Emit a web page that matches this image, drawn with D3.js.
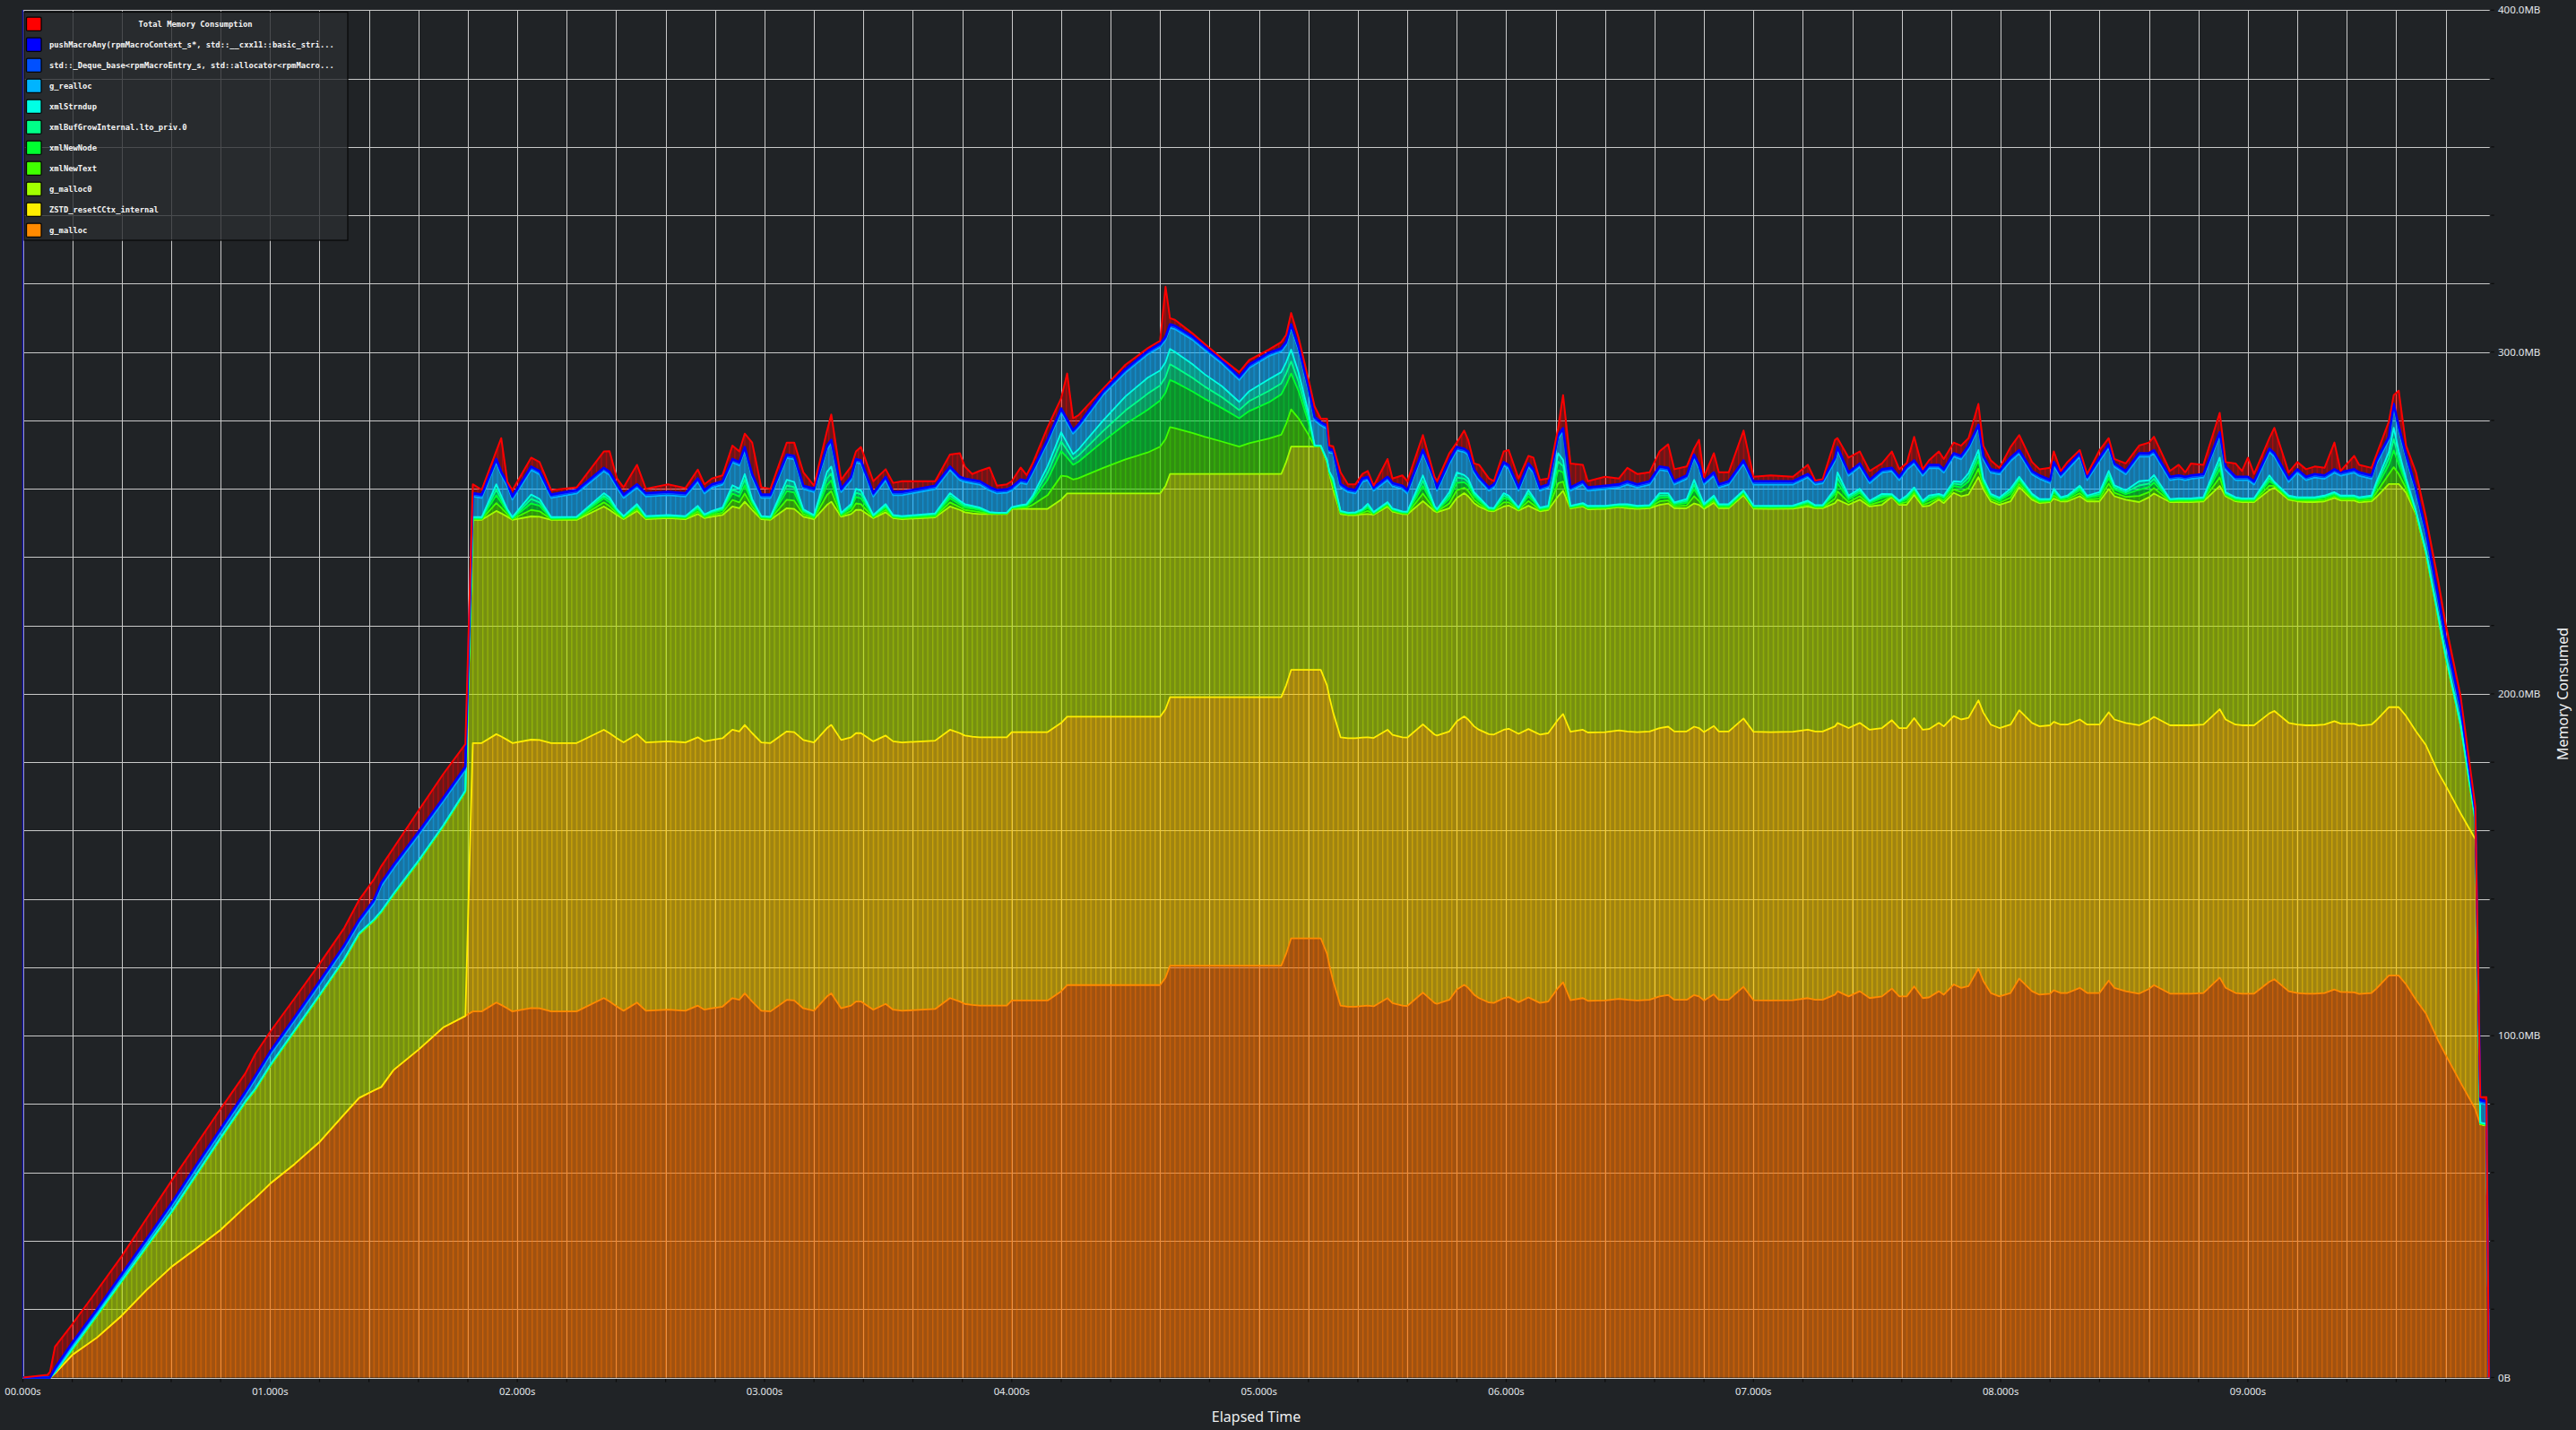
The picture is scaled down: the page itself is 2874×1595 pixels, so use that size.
<!DOCTYPE html>
<html>
<head>
<meta charset="utf-8">
<script src="https://cdn.jsdelivr.net/npm/d3@7"></script>
<style>
html, body { margin: 0; padding: 0; background: #202326; }
svg { display: block; }
</style>
<title>Memory Consumed</title>
</head>
<body>
<div id="chart"></div>
<script>
// elapsed time in seconds
const times = [
  0, 0.1, 0.11, 0.13, 0.2, 0.3, 0.4, 0.5, 0.6, 0.7,
  0.8, 0.9, 0.94, 1.0, 1.1, 1.2, 1.3, 1.36, 1.42, 1.45,
  1.5, 1.6, 1.7, 1.79, 1.82, 1.856, 1.915, 1.935, 1.96, 1.98,
  2.056, 2.09, 2.137, 2.24, 2.35, 2.373, 2.403, 2.43, 2.484, 2.52,
  2.61, 2.68, 2.73, 2.757, 2.787, 2.83, 2.87, 2.898, 2.92, 2.95,
  2.987, 3.024, 3.09, 3.12, 3.157, 3.2, 3.253, 3.27, 3.31, 3.35,
  3.37, 3.39, 3.44, 3.49, 3.52, 3.556, 3.69, 3.75, 3.79, 3.81,
  3.84, 3.87, 3.91, 3.94, 3.98, 4.0, 4.036, 4.06, 4.085, 4.145,
  4.2, 4.224, 4.248, 4.27, 4.37, 4.46, 4.55, 4.6, 4.622, 4.64,
  4.66, 4.73, 4.78, 4.85, 4.92, 4.96, 5.04, 5.09, 5.11, 5.13,
  5.16, 5.2, 5.225, 5.25, 5.275, 5.285, 5.3, 5.33, 5.36, 5.39,
  5.418, 5.44, 5.464, 5.52, 5.54, 5.58, 5.6, 5.663, 5.71, 5.72,
  5.77, 5.8, 5.83, 5.846, 5.87, 5.89, 5.93, 5.95, 5.99, 6.01,
  6.05, 6.09, 6.11, 6.136, 6.17, 6.21, 6.23, 6.26, 6.31, 6.33,
  6.4, 6.456, 6.49, 6.53, 6.58, 6.62, 6.655, 6.68, 6.73, 6.76,
  6.78, 6.8, 6.84, 6.86, 6.9, 6.96, 7.0, 7.07, 7.16, 7.22,
  7.25, 7.28, 7.33, 7.34, 7.385, 7.43, 7.47, 7.52, 7.56, 7.59,
  7.62, 7.65, 7.685, 7.71, 7.75, 7.77, 7.81, 7.84, 7.87, 7.91,
  7.93, 7.96, 7.995, 8.04, 8.075, 8.127, 8.157, 8.2, 8.215, 8.243,
  8.27, 8.32, 8.35, 8.4, 8.437, 8.46, 8.506, 8.56, 8.6, 8.62,
  8.685, 8.72, 8.747, 8.77, 8.82, 8.886, 8.91, 8.95, 8.976, 9.0,
  9.025, 9.087, 9.107, 9.165, 9.2, 9.235, 9.27, 9.31, 9.35, 9.375,
  9.43, 9.45, 9.5, 9.52, 9.57, 9.59, 9.61, 9.64, 9.68, 9.72,
  9.77, 9.8, 9.86, 9.92, 9.94, 9.965, 9.975
];

// MB per allocation site
const gMalloc = [
  0, 0, 0, 1.2, 6.6, 11.7, 18.1, 25.6, 32.3, 37.7,
  43.2, 50, 52.5, 56.7, 62.5, 68.9, 77, 81.8, 84, 85,
  90, 95.9, 102.4, 105.8, 107.1, 107.1, 109.7, 109, 108, 107.1,
  108.1, 108, 107.1, 107.1, 111, 110, 108.5, 107.3, 109.7, 107.3,
  107.6, 107.3, 108.8, 107.6, 108, 108.5, 111, 110.5, 112.4, 110,
  107.3, 107.1, 110.5, 110.3, 108, 107.3, 111.5, 112.4, 108, 108.8,
  110, 110, 107.6, 109.3, 107.6, 107.3, 107.8, 111, 110, 109.3,
  109, 108.8, 108.8, 108.8, 108.8, 110.3, 110.3, 110.3, 110.3, 110.3,
  113, 114.8, 114.8, 114.8, 114.8, 114.8, 114.8, 114.8, 117, 120.5,
  120.5, 120.5, 120.5, 120.5, 120.5, 120.5, 120.5, 120.5, 124, 128.5,
  128.5, 128.5, 128.5, 128.5, 124, 120.5, 116, 108.8, 108.5, 108.5,
  108.7, 108.8, 108.6, 111, 109.5, 108.8, 108.7, 112.6, 109.6, 109.3,
  110.5, 113.5, 114.9, 114, 112, 111, 109.7, 109.6, 111, 111.3,
  109.8, 111.2, 110.5, 109.6, 110, 114, 115.6, 110.4, 111, 110.2,
  110.3, 110.8, 110.5, 110.3, 110.5, 111.5, 111.9, 110.5, 110.5, 111.9,
  111.5, 110.3, 112.1, 110.5, 110.5, 114.3, 110.4, 110.3, 110.4, 111,
  110.5, 110.5, 112, 113, 111.5, 113, 111, 111.5, 113.8, 111.5,
  111.5, 114.4, 111, 111.2, 113, 112, 115, 114, 114.5, 119.6,
  116, 112.5, 111.5, 112.5, 116.7, 113, 112, 112.3, 113.3, 112.5,
  112.5, 114, 112.5, 112.5, 116.1, 114, 113, 112.3, 113.7, 114.8,
  112.3, 112.3, 112.3, 112.3, 112.5, 117, 114, 112.5, 112.3, 112.3,
  112.3, 115.8, 116.5, 113, 112.5, 112.3, 112.3, 112.5, 113.5, 112.8,
  112.7, 112.2, 112.5, 113.8, 117.6, 117.6, 117.6, 115, 110.5, 106.5,
  98.5, 94.4, 86.3, 78.5, 74.1, 73.7, 0
];

const zstd = [
  0, 0, 0, 0, 0, 0, 0, 0, 0, 0,
  0, 0, 0, 0, 0, 0, 0, 0, 0, 0,
  0, 0, 0, 0, 78.5, 78.5, 78.5, 78.5, 78.5, 78.5,
  78.5, 78.5, 78.5, 78.5, 78.5, 78.5, 78.5, 78.5, 78.5, 78.5,
  78.5, 78.5, 78.5, 78.5, 78.5, 78.5, 78.5, 78.5, 78.5, 78.5,
  78.5, 78.5, 78.5, 78.5, 78.5, 78.5, 78.5, 78.5, 78.5, 78.5,
  78.5, 78.5, 78.5, 78.5, 78.5, 78.5, 78.5, 78.5, 78.5, 78.5,
  78.5, 78.5, 78.5, 78.5, 78.5, 78.5, 78.5, 78.5, 78.5, 78.5,
  78.5, 78.5, 78.5, 78.5, 78.5, 78.5, 78.5, 78.5, 78.5, 78.5,
  78.5, 78.5, 78.5, 78.5, 78.5, 78.5, 78.5, 78.5, 78.5, 78.5,
  78.5, 78.5, 78.5, 78.5, 78.5, 78.5, 78.5, 78.5, 78.5, 78.5,
  78.5, 78.5, 78.5, 78.5, 78.5, 78.5, 78.5, 78.5, 78.5, 78.5,
  78.5, 78.5, 78.5, 78.5, 78.5, 78.5, 78.5, 78.5, 78.5, 78.5,
  78.5, 78.5, 78.5, 78.5, 78.5, 78.5, 78.5, 78.5, 78.5, 78.5,
  78.5, 78.5, 78.5, 78.5, 78.5, 78.5, 78.5, 78.5, 78.5, 78.5,
  78.5, 78.5, 78.5, 78.5, 78.5, 78.5, 78.5, 78.5, 78.5, 78.5,
  78.5, 78.5, 78.5, 78.5, 78.5, 78.5, 78.5, 78.5, 78.5, 78.5,
  78.5, 78.5, 78.5, 78.5, 78.5, 78.5, 78.5, 78.5, 78.5, 78.5,
  78.5, 78.5, 78.5, 78.5, 78.5, 78.5, 78.5, 78.5, 78.5, 78.5,
  78.5, 78.5, 78.5, 78.5, 78.5, 78.5, 78.5, 78.5, 78.5, 78.5,
  78.5, 78.5, 78.5, 78.5, 78.5, 78.5, 78.5, 78.5, 78.5, 78.5,
  78.5, 78.5, 78.5, 78.5, 78.5, 78.5, 78.5, 78.5, 78.5, 78.5,
  78.5, 78.5, 78.5, 78.5, 78.5, 78.5, 78.5, 78.5, 78.5, 78.5,
  78.5, 78.8, 78.8, 79, 0, 0, 0
];

const gMalloc0 = [
  0, 0, 0, 0.3, 1.5, 6.3, 9.9, 12.4, 15.7, 21.2,
  26.6, 30.4, 31.6, 34.3, 38.8, 42.7, 45.1, 47.8, 49.6, 51.1,
  51.2, 54.9, 58.7, 65.5, 65.3, 65.3, 65.3, 65.3, 65.3, 65.3,
  65.3, 65.3, 65.3, 65.3, 65.3, 65.3, 65.3, 65.3, 65.3, 65.3,
  65.3, 65.3, 65.3, 65.3, 65.3, 65.3, 65.3, 65.3, 65.3, 65.3,
  65.3, 65.3, 65.3, 65.3, 65.3, 65.3, 65.3, 65.3, 65.3, 65.3,
  65.3, 65.3, 65.3, 65.3, 65.3, 65.3, 65.3, 65.3, 65.3, 65.3,
  65.3, 65.3, 65.3, 65.3, 65.3, 65.3, 65.3, 65.3, 65.3, 65.3,
  65.3, 65.3, 65.3, 65.3, 65.3, 65.3, 65.3, 65.3, 65.3, 65.3,
  65.3, 65.3, 65.3, 65.3, 65.3, 65.3, 65.3, 65.3, 65.3, 65.3,
  65.3, 65.3, 65.3, 65.3, 65.3, 65.3, 65.3, 65.3, 65.3, 65.3,
  65.3, 65.3, 65.3, 65.3, 65.3, 65.3, 65.3, 65.3, 65.3, 65.3,
  65.3, 65.3, 65.3, 65.3, 65.3, 65.3, 65.3, 65.3, 65.3, 65.3,
  65.3, 65.3, 65.3, 65.3, 65.3, 65.3, 65.3, 65.3, 65.3, 65.3,
  65.3, 65.3, 65.3, 65.3, 65.3, 65.3, 65.3, 65.3, 65.3, 65.3,
  65.3, 65.3, 65.3, 65.3, 65.3, 65.3, 65.3, 65.3, 65.3, 65.3,
  65.3, 65.3, 65.3, 65.3, 65.3, 65.3, 65.3, 65.3, 65.3, 65.3,
  65.3, 65.3, 65.3, 65.3, 65.3, 65.3, 65.3, 65.3, 65.3, 65.3,
  65.3, 65.3, 65.3, 65.3, 65.3, 65.3, 65.3, 65.3, 65.3, 65.3,
  65.3, 65.3, 65.3, 65.3, 65.3, 65.3, 65.3, 65.3, 65.3, 65.3,
  65.3, 65.3, 65.3, 65.3, 65.3, 65.3, 65.3, 65.3, 65.3, 65.3,
  65.3, 65.3, 65.3, 65.3, 65.3, 65.3, 65.3, 65.3, 65.3, 65.3,
  65.3, 65.3, 65.3, 65.3, 65.3, 65.3, 65.3, 65.3, 63.5, 56,
  45.1, 37.3, 25.6, 5, 0, 0, 0
];

const xmlNewText = [
  0, 0, 0, 0, .1, .1, .1, .1, .1, .1,
  .1, .1, .1, .1, .1, .1, .1, .1, .1, .1,
  .1, .1, .1, .1, .2, .2, 2.3, 1.6, .7, .2,
  1.9, 1.6, .2, .25, 1.2, 1.1, .5, .25, .6, .25,
  .25, .25, .7, .3, .5, .7, 1.9, 1.7, 2.4, 1,
  .25, .25, 2.5, 2.4, .7, .3, 2.9, 3.1, .3, .9,
  1.9, 1.7, .25, .7, .25, .25, .3, 1.2, .8, .7,
  .7, .6, .15, .1, .1, .15, .3, .4, 1.2, 4,
  7, 5, 4.1, 4.5, 7.5, 10, 12, 13.7, 13.7, 13.7,
  13.4, 12, 10.9, 9.5, 8, 9, 10.4, 11.5, 11.2, 10.9,
  8.3, 3.5, .1, .1, .2, .2, 1, .25, .2, .2,
  .45, .9, .2, .4, .25, .2, .2, 2.2, .5, .25,
  1.4, 2.2, 1.6, 1.6, 1, .8, .25, .25, 1.2, .9,
  .25, 1.4, 1, .3, .3, 3.8, 2.7, .2, .25, .25,
  .25, .25, .3, .25, .25, 1, .9, .5, .8, 2.1,
  1.1, .4, .6, .3, .3, .4, .25, .25, .25, .5,
  .25, .25, 1.3, 2.4, .8, 1, .5, 1, .2, .3,
  .8, .7, .5, .9, .5, .7, 1, 1.3, 1.9, 2.4,
  1, .7, .6, 1.1, .9, .5, .3, .25, .9, .3,
  .5, .9, .5, .8, 1.6, 1, .8, 1.8, 1.5, 1.6,
  .25, .3, .3, .3, .3, 2.5, .3, .3, .3, .3,
  .3, 1.3, .5, .3, .3, .4, .4, .5, .5, .4,
  .45, .45, .5, 1.3, 2.8, 4.9, 2.9, 1.3, .25, .2,
  .2, .2, .2, .2, .15, .15, 0
];

const xmlNewNode = [
  0, 0, 0, 0, .1, .1, .1, .1, .1, .1,
  .1, .1, .1, .1, .1, .1, .1, .1, .1, .1,
  .1, .1, .1, .1, .2, .2, 2.3, 1.6, .7, .2,
  1.9, 1.6, .2, .25, 1.2, 1.1, .5, .25, .6, .25,
  .25, .25, .7, .3, .5, .7, 1.9, 1.7, 2.4, 1,
  .25, .25, 2.5, 2.4, .7, .3, 2.9, 3.1, .3, .9,
  1.9, 1.7, .25, .7, .25, .25, .3, 1.2, .8, .7,
  .7, .6, .15, .1, .1, .15, .3, .4, 1.3, 4.5,
  7.2, 5.5, 4.3, 4.8, 7.8, 10.3, 12.5, 13.5, 13.6, 13.8,
  13.5, 12.2, 11.1, 9.8, 8.3, 9.4, 10.6, 11.8, 11.4, 10.5,
  8, 3.5, .1, .1, .2, .2, 1, .25, .2, .2,
  .45, .9, .2, .4, .25, .2, .2, 2.2, .5, .25,
  1.4, 2.2, 1.6, 1.6, 1, .8, .25, .25, 1.2, .9,
  .25, 1.4, 1, .3, .3, 3.8, 2.7, .2, .25, .25,
  .25, .25, .3, .25, .25, 1, .9, .5, .8, 2.1,
  1.1, .4, .6, .3, .3, .4, .25, .25, .25, .5,
  .25, .25, 1.3, 2.4, .8, 1, .5, 1, .2, .3,
  .8, .7, .5, .9, .5, .7, 1, 1.3, 1.9, 2.4,
  1, .7, .6, 1.1, .9, .5, .3, .25, .9, .3,
  .5, .9, .5, .8, 1.6, 1, .8, 1.8, 1.5, 1.6,
  .25, .3, .3, .3, .3, 2.5, .3, .3, .3, .3,
  .3, 1.3, .5, .3, .3, .4, .4, .5, .5, .4,
  .45, .45, .5, 1.3, 2.8, 4.9, 2.9, 1.3, .25, .2,
  .2, .2, .2, .2, .15, .15, 0
];

const xmlBufGrow = [
  0, 0, 0, 0, .1, .1, .1, .1, .1, .1,
  .1, .1, .1, .1, .1, .1, .1, .1, .1, .1,
  .1, .1, .1, .1, .2, .2, 1.6, 1, .4, .2,
  1.3, 1, .2, .2, .75, .75, .35, .2, .4, .2,
  .2, .2, .5, .25, .35, .4, 1.2, 1.15, 1.65, .6,
  .2, .2, 1.65, 1.55, .4, .3, 1.95, 2.05, .3, .55,
  1.2, 1.15, .2, .5, .2, .2, .3, .75, .55, .5,
  .4, .35, .15, .1, .1, .1, .25, .3, .7, 2,
  2.8, 2.2, 1.6, 1.8, 3, 4, 4.7, 4.4, 4.5, 4.6,
  4.4, 4, 3.6, 3.2, 2.4, 2.9, 3.3, 3.2, 3.3, 3.5,
  2.7, 1.5, .1, .05, .15, .15, .6, .2, .15, .2,
  .3, .6, .2, .25, .2, .2, .2, 1.55, .3, .2,
  .95, 1.55, 1.05, 1, .6, .55, .25, .2, .75, .55,
  .2, .9, .6, .25, .3, 2.5, 1.8, .2, .25, .25,
  .2, .2, .3, .2, .2, .7, .6, .35, .55, 1.35,
  .75, .3, .45, .3, .3, .3, .2, .2, .2, .35,
  .2, .2, .8, 1.6, .55, .6, .35, .6, .2, .3,
  .55, .4, .35, .6, .35, .4, .7, .8, 1.2, 1.55,
  .6, .4, .45, .75, .6, .35, .3, .2, .55, .3,
  .35, .65, .35, .55, 1.05, .6, .55, 1.25, 1, 1.1,
  .2, .25, .25, .25, .3, 1.65, .3, .3, .25, .25,
  .25, .85, .35, .3, .3, .3, .3, .35, .35, .3,
  .3, .3, .35, .9, 1.85, 3.3, 1.9, .8, .25, .2,
  .2, .2, .15, .15, .1, .1, 0
];

const xmlStrndup = [
  0, 0, 0, 0, .1, .1, .1, .1, .1, .1,
  .1, .1, .1, .1, .1, .1, .1, .1, .1, .1,
  .1, .1, .1, .1, .2, .2, 1.6, 1, .4, .2,
  1.3, 1, .2, .2, .75, .75, .35, .2, .4, .2,
  .2, .2, .5, .25, .35, .4, 1.2, 1.15, 1.65, .6,
  .2, .2, 1.65, 1.55, .4, .3, 1.95, 2.05, .3, .55,
  1.2, 1.15, .2, .5, .2, .2, .3, .75, .55, .5,
  .4, .35, .15, .1, .1, .1, .25, .3, .7, 2,
  2.7, 2, 1.5, 1.8, 3.1, 4.1, 4.7, 4.4, 4.4, 4.5,
  4.4, 4, 3.6, 3.2, 2.4, 2.9, 3.4, 3.3, 3.3, 3.5,
  2.7, 1.5, .1, .05, .15, .15, .6, .2, .15, .2,
  .3, .6, .2, .25, .2, .2, .2, 1.55, .3, .2,
  .95, 1.55, 1.05, 1, .6, .55, .25, .2, .75, .55,
  .2, .9, .6, .25, .3, 2.5, 1.8, .2, .25, .25,
  .2, .2, .3, .2, .2, .7, .6, .35, .55, 1.35,
  .75, .3, .45, .3, .3, .3, .2, .2, .2, .35,
  .2, .2, .8, 1.6, .55, .6, .35, .6, .2, .3,
  .55, .4, .35, .6, .35, .4, .7, .8, 1.2, 1.55,
  .6, .4, .45, .75, .6, .35, .3, .2, .55, .3,
  .35, .65, .35, .55, 1.05, .6, .55, 1.25, 1, 1.1,
  .2, .25, .25, .25, .3, 1.65, .3, .3, .25, .25,
  .25, .85, .35, .3, .3, .3, .3, .35, .35, .3,
  .3, .3, .35, .9, 1.85, 3.3, 1.9, .8, .25, .2,
  .2, .2, .15, .15, .1, .1, 0
];

const gRealloc = [
  0, 0, 0, .3, .7, .6, .9, 1.1, 1.5, 1.7,
  1.6, 1.8, 2.7, 2.9, 2.8, 2.9, 3.0, 2.9, 4.7, 7.3,
  7.4, 7.4, 7.0, 6.0, 6.0, 5.6, 6.4, 6.0, 6.7, 5.1,
  7.2, 7.2, 5.6, 6.8, 6.4, 6.5, 6.3, 5.3, 4.8, 5.7,
  5.8, 5.7, 7.0, 6.1, 6.8, 6.7, 6.7, 6.8, 6.9, 6.3,
  5.3, 5.5, 6.4, 6.6, 5.9, 6.7, 6.6, 6.8, 6.0, 7.0,
  7.7, 7.8, 5.4, 7.0, 5.8, 6.1, 7.1, 6.8, 6.0, 6.5,
  6.6, 6.7, 6.3, 5.6, 5.8, 4.9, 6.5, 5.8, 6.7, 6.9,
  6.0, 6.0, 6.0, 6.3, 7.5, 7.0, 6.8, 6.8, 6.5, 6.2,
  6.7, 7.1, 7.1, 6.6, 6.4, 6.8, 6.8, 6.0, 5.0, 6.4,
  6.6, 6.5, 7.3, 5.9, 9.0, 5.5, 7.4, 6.9, 6.0, 5.5,
  8.0, 6.9, 6.2, 6.4, 6.5, 6.5, 5.3, 6.5, 7.0, 5.4,
  8.3, 6.4, 6.7, 6.9, 5.7, 5.0, 4.9, 6.0, 8.1, 7.9,
  4.9, 6.8, 7.2, 4.9, 5.3, 4.3, 8.3, 4.4, 5.4, 4.4,
  4.9, 4.8, 5.7, 5.3, 6.0, 6.8, 6.4, 5.2, 5.9, 6.4,
  7.0, 5.7, 5.8, 4.8, 5.7, 7.8, 6.1, 6.2, 6.1, 6.8,
  6.0, 6.4, 8.1, 6.4, 5.8, 6.4, 5.1, 6.2, 6.7, 6.0,
  7.5, 6.9, 7.3, 8.0, 7.5, 6.7, 7.2, 6.6, 7.1, 6.4,
  5.6, 6.2, 6.8, 8.1, 6.8, 5.7, 5.9, 4.6, 6.8, 5.8,
  7.5, 8.5, 4.5, 9.1, 6.8, 5.4, 4.7, 7.2, 6.9, 6.3,
  5.5, 5.7, 5.3, 5.7, 5.8, 6.4, 6.5, 5.0, 5.3, 5.3,
  4.0, 6.8, 7.4, 4.0, 7.2, 5.0, 5.8, 4.9, 5.7, 5.8,
  6.7, 6.3, 4.9, 5.3, 3.5, 6.0, 6.3, 6.0, 5.5, 5.0,
  4.5, 4.0, 4.0, 1.5, 5.6, 5.6, 0
];

const dequeBase = [
  0, 0, 0, .5, .5, .5, .5, .5, .5, .5,
  .5, .5, .5, .5, .5, .5, .5, .5, .5, .5,
  .5, .5, .5, .5, .5, .5, .5, .5, .5, .5,
  .5, .5, .5, .5, .5, .5, .5, .5, .5, .5,
  .5, .5, .5, .5, .5, .5, .5, .5, .5, .5,
  .5, .5, .5, .5, .5, .5, .5, .5, .5, .5,
  .5, .5, .5, .5, .5, .5, .5, .5, .5, .5,
  .5, .5, .5, .5, .5, .5, .5, .5, .5, .5,
  .5, .5, .5, .5, .5, .5, .5, .5, .5, .5,
  .5, .5, .5, .5, .5, .5, .5, .5, .5, .5,
  .5, .5, .5, .5, .5, .5, .5, .5, .5, .5,
  .5, .5, .5, .5, .5, .5, .5, .5, .5, .5,
  .5, .5, .5, .5, .5, .5, .5, .5, .5, .5,
  .5, .5, .5, .5, .5, .5, .5, .5, .5, .5,
  .5, .5, .5, .5, .5, .5, .5, .5, .5, .5,
  .5, .5, .5, .5, .5, .5, .5, .5, .5, .5,
  .5, .5, .5, .5, .5, .5, .5, .5, .5, .5,
  .5, .5, .5, .5, .5, .5, .5, .5, .5, .5,
  .5, .5, .5, .5, .5, .5, .5, .5, .5, .5,
  .5, .5, .5, .5, .5, .5, .5, .5, .5, .5,
  .5, .5, .5, .5, .5, .5, .5, .5, .5, .5,
  .5, .5, .5, .5, .5, .5, .5, .5, .5, .5,
  .5, .5, .5, .5, .5, .5, .5, .5, .5, .5,
  .5, .5, .5, .5, .5, .5, 0
];

const pushMacro = [
  0, 0, 0, .5, .5, .5, .5, .5, .5, .5,
  .5, .5, .5, .5, .5, .5, .5, .5, .5, .5,
  .5, .5, .5, .5, .5, .5, .5, .5, .5, .5,
  .5, .5, .5, .5, .5, .5, .5, .5, .5, .5,
  .5, .5, .5, .5, .5, .5, .5, .5, .5, .5,
  .5, .5, .5, .5, .5, .5, .5, .5, .5, .5,
  .5, .5, .5, .5, .5, .5, .5, .5, .5, .5,
  .5, .5, .5, .5, .5, .5, .5, .5, .5, .5,
  .5, .5, .5, .5, .5, .5, .5, .5, .5, .5,
  .5, .5, .5, .5, .5, .5, .5, .5, .5, .5,
  .5, .5, .5, .5, .5, .5, .5, .5, .5, .5,
  .5, .5, .5, .5, .5, .5, .5, .5, .5, .5,
  .5, .5, .5, .5, .5, .5, .5, .5, .5, .5,
  .5, .5, .5, .5, .5, .5, .5, .5, .5, .5,
  .5, .5, .5, .5, .5, .5, .5, .5, .5, .5,
  .5, .5, .5, .5, .5, .5, .5, .5, .5, .5,
  .5, .5, .5, .5, .5, .5, .5, .5, .5, .5,
  .5, .5, .5, .5, .5, .5, .5, .5, .5, .5,
  .5, .5, .5, .5, .5, .5, .5, .5, .5, .5,
  .5, .5, .5, .5, .5, .5, .5, .5, .5, .5,
  .5, .5, .5, .5, .5, .5, .5, .5, .5, .5,
  .5, .5, .5, .5, .5, .5, .5, .5, .5, .5,
  .5, .5, .5, .5, .5, .5, .5, .5, .5, .5,
  .5, .5, .5, .5, .5, .5, 0
];

// total memory consumption (MB)
const total = [
  0, .8, 1.7, 9, 15.6, 25.5, 35.5, 46.5, 57.4, 68,
  78.6, 89, 94.6, 101.1, 111, 121, 131.5, 139.7, 145.7, 149.6,
  155, 165.8, 176.5, 185.3, 261.3, 259.7, 271, 274.8, 262, 259.6,
  269.1, 267.8, 259.6, 260.4, 270.9, 271, 263, 260.4, 267, 260,
  261.3, 260.2, 265.6, 261.3, 263, 263.9, 272.6, 270.9, 276.1, 273.5,
  260.4, 260, 273.5, 273.5, 264.8, 260.9, 277, 281.7, 262.6, 266.5,
  270.9, 272.2, 262.2, 265.7, 261.7, 262.2, 262.2, 270, 270.4, 266.5,
  264.3, 265.2, 266.2, 260.9, 261.3, 262.2, 266.2, 264, 267.5, 278,
  286.5, 293.7, 280.6, 281.5, 289.3, 296.3, 301.1, 303.3, 319.1, 309.9,
  309.4, 305.5, 302.4, 298.1, 294.1, 297.6, 300.7, 302.9, 305, 311.4,
  304.2, 292, 284.1, 280.5, 280.5, 272.6, 272.4, 264.8, 261.3, 261.3,
  264.3, 265.2, 260.9, 268.7, 263, 263.9, 262.2, 275.7, 263.5, 262.2,
  270.4, 273.5, 277, 274.3, 267.4, 267, 263, 262.2, 270.9, 271.3,
  263, 269.6, 269.1, 262.6, 263, 277.8, 287.4, 267.4, 267, 262.2,
  263.5, 263, 266.1, 264.3, 264.8, 270.9, 273, 265.7, 266.5, 271.7,
  274.3, 263.5, 270.4, 264.8, 264.8, 277, 263.5, 263.9, 263.5, 267,
  262.4, 262.8, 274.3, 274.8, 269.1, 270.9, 265.2, 267.4, 270.9, 265.7,
  267.5, 275.2, 265.7, 268.3, 270.9, 268.7, 273.5, 272.6, 274.8, 284.8,
  272.6, 268.3, 266.1, 272.2, 275.7, 267.8, 265.7, 266.1, 270.9, 265.2,
  267.8, 271.3, 264.3, 271.3, 274.8, 268.7, 267.4, 272.6, 273.5, 275.2,
  265.2, 267, 264.8, 267.4, 267, 282.2, 267.8, 267.4, 265.2, 269.1,
  264.3, 274.8, 277.8, 264.8, 267.8, 265.7, 266.5, 266.1, 273.5, 265.2,
  269.6, 267, 266.1, 270, 279.6, 287.4, 288.7, 272.6, 264.8, 251.7,
  233, 220.4, 199.5, 167, 82, 82, 0
];

const yTicks = [0, 20, 40, 60, 80, 100, 120, 140, 160, 180, 200, 220, 240, 260, 280, 300, 320, 340, 360, 380, 400];
const yLabels = [0, 100, 200, 300, 400];
const xLabels = [0, 1, 2, 3, 4, 5, 6, 7, 8, 9];

// bottom to top stacking order; color = legend/line, fill = band tint
const layers = [
  { key: "g_malloc", color: "#ff8a00", fill: "#ff7600", values: gMalloc },
  { key: "ZSTD_resetCCtx_internal", color: "#ffee00", fill: "#ffcc00", values: zstd },
  { key: "g_malloc0", color: "#a2ff00", fill: "#b6e000", values: gMalloc0 },
  { key: "xmlNewText", color: "#40ff00", fill: "#3ce000", values: xmlNewText },
  { key: "xmlNewNode", color: "#00ff30", fill: "#00e030", values: xmlNewNode },
  { key: "xmlBufGrowInternal.lto_priv.0", color: "#00ff88", fill: "#00e888", values: xmlBufGrow },
  { key: "xmlStrndup", color: "#00ffe4", fill: "#00e8d0", values: xmlStrndup },
  { key: "g_realloc", color: "#00b4ff", fill: "#10b0ff", values: gRealloc },
  { key: "std::_Deque_base<rpmMacroEntry_s, std::allocator<rpmMacro...", color: "#0050ff", fill: "#0050ff", values: dequeBase },
  { key: "pushMacroAny(rpmMacroContext_s*, std::__cxx11::basic_stri...", color: "#0000ff", fill: "#0000ff", values: pushMacro }
];
const totalName = "Total Memory Consumption";
const totalColor = "#ff0000";

const W = 2874, H = 1595;
const plot = { left: 25.5, right: 2777.7, top: 11.3, bottom: 1536.5 };

const x = d3.scaleLinear().domain([0, 9.978]).range([plot.left, plot.right]);
const y = d3.scaleLinear().domain([0, 400]).range([plot.bottom, plot.top]);

const svg = d3.select("#chart").append("svg")
    .attr("width", W)
    .attr("height", H);

svg.append("rect").attr("width", W).attr("height", H).attr("fill", "#202326");

// grid
const grid = svg.append("g").attr("stroke", "#c9c9c9").attr("stroke-width", 1);
grid.selectAll(".h").data(yTicks).enter().append("line")
    .attr("x1", plot.left).attr("x2", plot.right)
    .attr("y1", d => Math.round(y(d)) + 0.5).attr("y2", d => Math.round(y(d)) + 0.5);
grid.selectAll(".v").data(d3.range(0, 50)).enter().append("line")
    .attr("x1", d => Math.round(x(d * 0.2)) + 0.5).attr("x2", d => Math.round(x(d * 0.2)) + 0.5)
    .attr("y1", plot.top).attr("y2", plot.bottom);

// stripe patterns (one sample every 20 ms)
const defs = svg.append("defs");
const step = x(0.02) - x(0);
function stripes(id, color) {
    const p = defs.append("pattern")
        .attr("id", id)
        .attr("patternUnits", "userSpaceOnUse")
        .attr("x", plot.left - 0.6).attr("y", 0)
        .attr("width", step).attr("height", 10);
    p.append("rect").attr("width", 1.3).attr("height", 10)
        .attr("fill", color).attr("fill-opacity", 0.45);
}
layers.forEach((l, i) => stripes("st" + i, l.fill));
stripes("stTotal", totalColor);

const rows = times.map((t, i) => {
    const r = { t: t };
    layers.forEach(l => { r[l.key] = l.values[i]; });
    return r;
});
const stacked = d3.stack().keys(layers.map(l => l.key))(rows);
const stackTop = stacked[stacked.length - 1];

const band = d3.area()
    .x((d, i) => x(times[i]))
    .y0(d => y(d[0]))
    .y1(d => y(d[1]));

const areas = svg.append("g");
stacked.forEach((s, i) => {
    areas.append("path").attr("d", band(s))
        .attr("fill", layers[i].fill).attr("fill-opacity", 0.58);
    areas.append("path").attr("d", band(s))
        .attr("fill", "url(#st" + i + ")");
});

const totalBand = d3.area()
    .x((d, i) => x(times[i]))
    .y0((d, i) => y(stackTop[i][1]))
    .y1(d => y(d));
areas.append("path").attr("d", totalBand(total))
    .attr("fill", totalColor).attr("fill-opacity", 0.35);
areas.append("path").attr("d", totalBand(total))
    .attr("fill", "url(#stTotal)");

// boundary lines
const edge = d3.line()
    .x((d, i) => x(times[i]))
    .y(d => y(d[1]));
const lines = svg.append("g").attr("fill", "none").attr("stroke-linejoin", "round");
stacked.forEach((s, i) => {
    lines.append("path").attr("d", edge(s))
        .attr("stroke", layers[i].color)
        .attr("stroke-width", i === stacked.length - 1 ? 2.6 : 1.8);
});
lines.append("path")
    .attr("d", d3.line().x((d, i) => x(times[i])).y(d => y(d))(total))
    .attr("stroke", totalColor).attr("stroke-width", 2);

// left border
svg.append("line")
    .attr("x1", plot.left).attr("x2", plot.left)
    .attr("y1", plot.top).attr("y2", plot.bottom)
    .attr("stroke", "#1010a8").attr("stroke-width", 1.5);

// right axis
const axisFont = "'Noto Sans', 'Open Sans', sans-serif";
svg.append("g").selectAll("line").data(yTicks).enter().append("line")
    .attr("x1", plot.right + 1.5).attr("x2", plot.right + 5)
    .attr("y1", d => y(d)).attr("y2", d => y(d))
    .attr("stroke", "#0c0c0c").attr("stroke-width", 1.2);
svg.append("g").selectAll("text").data(yLabels).enter().append("text")
    .attr("x", 2787).attr("y", d => y(d) + 4)
    .attr("font-family", axisFont).attr("font-size", 11.5)
    .attr("fill", "#e2e6ea")
    .text(d => d === 0 ? "0B" : d.toFixed(1) + "MB");

// bottom axis
svg.append("g").selectAll("line").data(d3.range(0, 50)).enter().append("line")
    .attr("x1", d => x(d * 0.2)).attr("x2", d => x(d * 0.2))
    .attr("y1", plot.bottom + 1.5).attr("y2", plot.bottom + 5)
    .attr("stroke", "#0c0c0c").attr("stroke-width", 1.2);
svg.append("g").selectAll("text").data(xLabels).enter().append("text")
    .attr("x", d => x(d)).attr("y", 1555.5)
    .attr("text-anchor", "middle")
    .attr("font-family", axisFont).attr("font-size", 11.2)
    .attr("fill", "#e2e6ea")
    .text(d => "0" + d + ".000s");

svg.append("text")
    .attr("x", (plot.left + plot.right) / 2).attr("y", 1586)
    .attr("text-anchor", "middle")
    .attr("font-family", axisFont).attr("font-size", 16)
    .attr("fill", "#eceef0")
    .text("Elapsed Time");

svg.append("text")
    .attr("transform", "translate(2865," + ((plot.top + plot.bottom) / 2) + ") rotate(-90)")
    .attr("text-anchor", "middle")
    .attr("font-family", axisFont).attr("font-size", 16)
    .attr("fill", "#eceef0")
    .text("Memory Consumed");

// legend
const legendItems = [{ name: totalName, color: totalColor }]
    .concat(layers.slice().reverse().map(l => ({ name: l.key, color: l.color })));
const legend = svg.append("g");
legend.append("rect")
    .attr("x", 27).attr("y", 13.5).attr("width", 361).attr("height", 254.5)
    .attr("fill", "#2b2d31").attr("fill-opacity", 0.8)
    .attr("stroke", "#070707").attr("stroke-width", 1.2);
const item = legend.selectAll(".item").data(legendItems).enter().append("g")
    .attr("transform", (d, i) => "translate(0," + (26.8 + i * 23) + ")");
item.append("rect")
    .attr("x", 29.5).attr("y", -7.6).attr("width", 16.6).attr("height", 15.2)
    .attr("rx", 1.5)
    .attr("fill", d => d.color)
    .attr("stroke", "#050505").attr("stroke-width", 1.3);
item.append("text")
    .attr("x", (d, i) => i === 0 ? 218 : 55)
    .attr("y", 3.2)
    .attr("text-anchor", (d, i) => i === 0 ? "middle" : "start")
    .attr("font-family", "'DejaVu Sans Mono', monospace")
    .attr("font-size", 8.8)
    .attr("font-weight", 600)
    .attr("fill", "#f4f4f4")
    .text(d => d.name);
</script>
</body>
</html>
